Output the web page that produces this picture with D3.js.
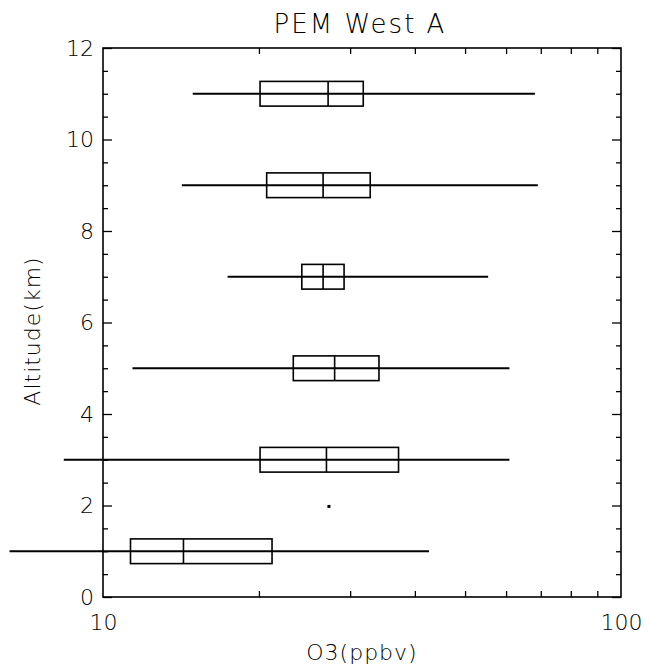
<!DOCTYPE html>
<html>
<head>
<meta charset="utf-8">
<script src="https://cdn.jsdelivr.net/npm/d3@7"></script>
<style>
  body { margin: 0; background: #fff; }
  text { font-family: "DejaVu Sans", sans-serif; font-weight: 300; fill: #000; }
</style>
</head>
<body>
<div id="chart"></div>
<script>
// altitude bins (km) and O3 box stats (ppbv)
const altitudes   = [1, 3, 5, 7, 9, 11];
const whiskerLow  = [6.6, 8.4, 11.4, 17.4, 14.2, 14.9];
const q1          = [11.3, 20.1, 23.3, 24.2, 20.7, 20.1];
const median      = [14.3, 27.0, 28.0, 26.6, 26.6, 27.2];
const q3          = [21.2, 37.2, 34.1, 29.2, 32.8, 31.8];
const whiskerHigh = [42.6, 60.9, 60.9, 55.4, 69.1, 68.2];

const strayX = [27.3];
const strayY = [1.98];

const yMajor = [0, 2, 4, 6, 8, 10, 12];
const yMinor = [0.5, 1, 1.5, 2.5, 3, 3.5, 4.5, 5, 5.5, 6.5, 7, 7.5, 8.5, 9, 9.5, 10.5, 11, 11.5];
const xLabels = [10, 100];
const xMinor = [20, 30, 40, 50, 60, 70, 80, 90];

const W = 650, H = 671;
const plotL = 103, plotR = 621, plotT = 48, plotB = 597;
const boxHalf = 0.27;

const svg = d3.select("#chart").append("svg")
  .attr("width", W)
  .attr("height", H);

const x = d3.scaleLog().domain([10, 100]).range([plotL, plotR]);
const y = d3.scaleLinear().domain([0, 12]).range([plotB, plotT]);

// frame
svg.append("rect")
  .attr("x", plotL).attr("y", plotT)
  .attr("width", plotR - plotL).attr("height", plotB - plotT)
  .attr("fill", "none").attr("stroke", "#000").attr("stroke-width", 1.6);

// ---- axes, ticks pointing inward ----
function clean(g) {
  g.select(".domain").remove();
  g.selectAll("line").attr("stroke", "#000").attr("stroke-width", 1.3);
  g.selectAll("text").style("font-size", "22px").attr("font-family", null);
}

svg.append("g").attr("transform", "translate(" + plotL + ",0)")
  .call(d3.axisLeft(y).tickValues(yMajor).tickSizeInner(-9).tickSizeOuter(0).tickPadding(9).tickFormat(d3.format("d")))
  .call(clean);
svg.append("g").attr("transform", "translate(" + plotL + ",0)")
  .call(d3.axisLeft(y).tickValues(yMinor).tickSizeInner(-5).tickSizeOuter(0).tickFormat(""))
  .call(clean);
svg.append("g").attr("transform", "translate(" + plotR + ",0)")
  .call(d3.axisRight(y).tickValues(yMajor).tickSizeInner(-9).tickSizeOuter(0).tickFormat(""))
  .call(clean);
svg.append("g").attr("transform", "translate(" + plotR + ",0)")
  .call(d3.axisRight(y).tickValues(yMinor).tickSizeInner(-5).tickSizeOuter(0).tickFormat(""))
  .call(clean);

svg.append("g").attr("transform", "translate(0," + plotB + ")")
  .call(d3.axisBottom(x).tickValues(xLabels).tickSizeInner(0).tickSizeOuter(0).tickPadding(17).tickFormat(d3.format("d")))
  .call(clean);
svg.append("g").attr("transform", "translate(0," + plotB + ")")
  .call(d3.axisBottom(x).tickValues(xMinor).tickSizeInner(-6).tickSizeOuter(0).tickFormat(""))
  .call(clean);
svg.append("g").attr("transform", "translate(0," + plotT + ")")
  .call(d3.axisTop(x).tickValues(xMinor).tickSizeInner(-6).tickSizeOuter(0).tickFormat(""))
  .call(clean);

// ---- boxes ----
const rows = svg.append("g").selectAll("g")
  .data(altitudes)
  .enter().append("g");

rows.append("line")
  .attr("x1", (d, i) => x(whiskerLow[i]))
  .attr("x2", (d, i) => x(whiskerHigh[i]))
  .attr("y1", d => y(d)).attr("y2", d => y(d))
  .attr("stroke", "#000").attr("stroke-width", 1.8);

rows.append("rect")
  .attr("x", (d, i) => x(q1[i]))
  .attr("width", (d, i) => x(q3[i]) - x(q1[i]))
  .attr("y", d => y(d + boxHalf))
  .attr("height", d => y(d - boxHalf) - y(d + boxHalf))
  .attr("fill", "none").attr("stroke", "#000").attr("stroke-width", 1.6);

rows.append("line")
  .attr("x1", (d, i) => x(median[i]))
  .attr("x2", (d, i) => x(median[i]))
  .attr("y1", d => y(d + boxHalf))
  .attr("y2", d => y(d - boxHalf))
  .attr("stroke", "#000").attr("stroke-width", 1.6);

svg.selectAll("rect.stray")
  .data(strayX)
  .enter().append("rect")
  .attr("class", "stray")
  .attr("x", d => x(d) - 1.5)
  .attr("y", (d, i) => y(strayY[i]) - 1.5)
  .attr("width", 3).attr("height", 3)
  .attr("fill", "#000");

// ---- titles ----
svg.append("text")
  .attr("x", 360).attr("y", 33)
  .attr("text-anchor", "middle")
  .style("font-size", "26px").style("letter-spacing", "2px")
  .text("PEM West A");

svg.append("text")
  .attr("x", 362).attr("y", 660)
  .attr("text-anchor", "middle")
  .style("font-size", "22px").style("letter-spacing", "1px")
  .text("O3(ppbv)");

svg.append("text")
  .attr("transform", "translate(40,331) rotate(-90)")
  .attr("text-anchor", "middle")
  .style("font-size", "22px").style("letter-spacing", "1px")
  .text("Altitude(km)");
</script>
</body>
</html>
